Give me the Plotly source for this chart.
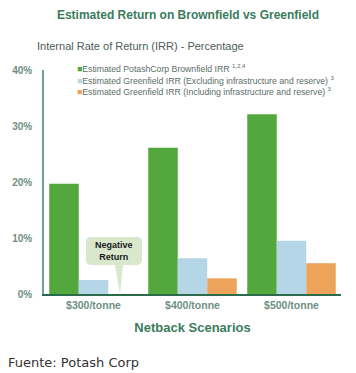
import plotly.graph_objects as go

categories = ["$300/tonne", "$400/tonne", "$500/tonne"]
brownfield = [19.7, 26.1, 32.1]
greenfield_excl = [2.5, 6.4, 9.5]
greenfield_incl = [None, 2.8, 5.5]
y_ticks = [0, 10, 20, 30, 40]
y_tick_labels = ["0%", "10%", "20%", "30%", "40%"]

series_names = [
    "Estimated PotashCorp Brownfield IRR <sup>1,2,4</sup>",
    "Estimated Greenfield IRR (Excluding infrastructure and reserve) <sup>3</sup>",
    "Estimated Greenfield IRR (Including infrastructure and reserve) <sup>3</sup>",
]
colors = ["#52a83c", "#b5d6e6", "#eda35a"]

FONT = "Liberation Sans, Arial, sans-serif"
TITLE_GREEN = "#3a7c5c"
TICK_COLOR = "#6e8f82"

fig = go.Figure()
for vals, name, c in zip([brownfield, greenfield_excl, greenfield_incl], series_names, colors):
    fig.add_trace(go.Bar(x=categories, y=vals, name=name, marker=dict(color=c, line=dict(width=0)),
                         showlegend=False))

# legend built as annotations
legend_y = [1.009, 0.955, 0.906]
for name, c, ly in zip(series_names, colors, legend_y):
    fig.add_annotation(xref="paper", yref="paper", x=0.104, y=ly, xanchor="left", yanchor="middle",
                       showarrow=False,
                       text=f"<span style='color:{c}'>■</span>{name}",
                       font=dict(family=FONT, size=8.7, color="#5a6e66"))

# callout "Negative Return"
x0, x1 = -0.076, 0.49
y0, y1 = 5.2, 10.2
rx, ry = 0.05, 0.9
pl, pr, tip = 0.217, 0.298, 0.268
path = (f"M {x0+rx},{y1} L {x1-rx},{y1} Q {x1},{y1} {x1},{y1-ry} L {x1},{y0+ry} "
        f"Q {x1},{y0} {x1-rx},{y0} L {pr},{y0} L {tip},0 L {pl},{y0} L {x0+rx},{y0} "
        f"Q {x0},{y0} {x0},{y0+ry} L {x0},{y1-ry} Q {x0},{y1} {x0+rx},{y1} Z")
fig.add_shape(type="path", path=path, xref="x", yref="y", fillcolor="#d9e7cd",
              line=dict(width=0), layer="above")
fig.add_annotation(xref="x", yref="y", x=(x0 + x1) / 2, y=(y0 + y1) / 2, showarrow=False,
                   text="<b>Negative<br>Return</b>", font=dict(family=FONT, size=9, color="#1a1a1a"))

# subtitle
fig.add_annotation(xref="paper", yref="paper", x=-0.03, y=1.107, xanchor="left", yanchor="middle",
                   showarrow=False, text="Internal Rate of Return (IRR) - Percentage",
                   font=dict(family=FONT, size=11, color="#4d5c57"))

# source
fig.add_annotation(xref="paper", yref="paper", x=-0.128, y=-0.304, xanchor="left", yanchor="middle",
                   showarrow=False, text="Fuente: Potash Corp",
                   font=dict(family="DejaVu Sans, Verdana, sans-serif", size=13, color="#333333"))

fig.update_layout(
    width=356, height=373,
    margin=dict(l=44, r=15, t=70, b=79, autoexpand=False),
    paper_bgcolor="white", plot_bgcolor="white",
    barmode="group", bargap=0.106, bargroupgap=0,
    title=dict(text="<b>Estimated Return on Brownfield vs Greenfield</b>",
               x=0.528, xref="container", xanchor="center",
               y=1 - 15 / 373, yref="container", yanchor="middle",
               font=dict(family=FONT, size=12, color=TITLE_GREEN)),
    xaxis=dict(showgrid=False, showline=True, linecolor="#2b6b4c", linewidth=2,
               tickfont=dict(family=FONT, size=10.5, color=TICK_COLOR, weight="bold"),
               ticks="", title=dict(text="<b>Netback Scenarios</b>", standoff=13,
                                    font=dict(family=FONT, size=13, color=TITLE_GREEN))),
    yaxis=dict(range=[0, 40], showgrid=False, zeroline=False, showline=True,
               linecolor="#6fa091", linewidth=1.5, tickvals=y_ticks, ticktext=y_tick_labels,
               ticks="", ticklabelstandoff=8,
               tickfont=dict(family=FONT, size=10, color=TICK_COLOR, weight="bold")),
)

fig.write_html("out.html", config={"displayModeBar": False},
               post_script="document.body.style.margin='0';")
